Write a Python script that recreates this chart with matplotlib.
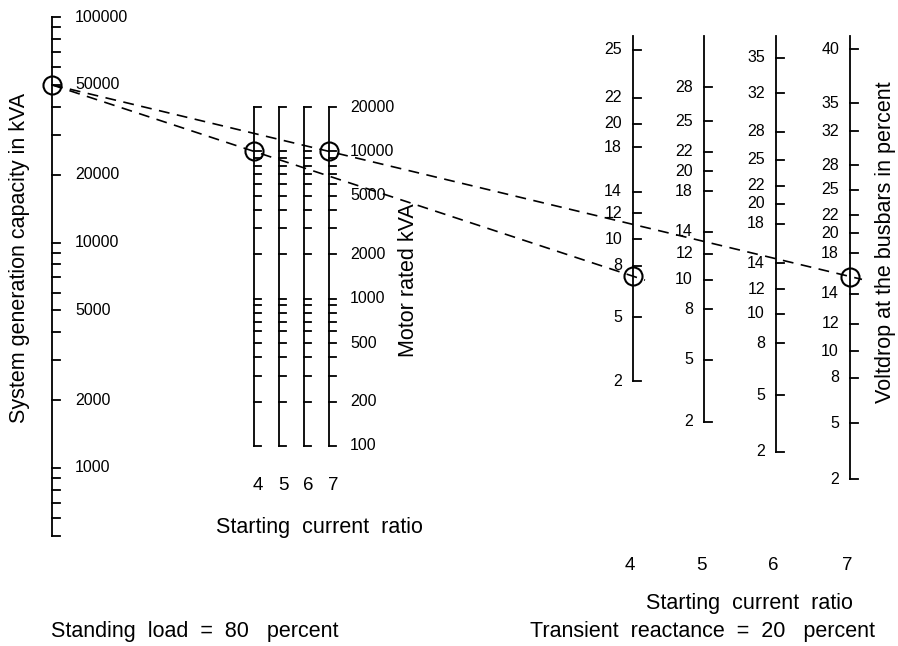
import numpy as np
import matplotlib
matplotlib.use("Agg")
import matplotlib.pyplot as plt

plt.rcParams['font.family'] = ['Liberation Sans', 'DejaVu Sans']

# ---------------- data ----------------
# System generation capacity scale (kVA, logarithmic)
gen_range = [500, 100000]
gen_labels = [1000, 2000, 5000, 10000, 20000, 50000, 100000]
gen_minor = (list(range(500, 1000, 100)) + list(range(1000, 10000, 1000))
             + list(range(10000, 100001, 10000)))

# Motor rated kVA scale (logarithmic), one line per starting current ratio
motor_range = [100, 20000]
motor_labels = [100, 200, 500, 1000, 2000, 5000, 10000, 20000]
motor_minor = (list(range(100, 1000, 100)) + list(range(1000, 10000, 1000))
               + [10000, 20000])
ratios = [4, 5, 6, 7]

# Voltdrop scales (percent) for each starting current ratio
vd_values = {
    4: [2, 5, 8, 10, 12, 14, 18, 20, 22, 25],
    5: [2, 5, 8, 10, 12, 14, 18, 20, 22, 25, 28],
    6: [2, 5, 8, 10, 12, 14, 18, 20, 22, 25, 28, 32, 35],
    7: [2, 5, 8, 10, 12, 14, 18, 20, 22, 25, 28, 32, 35, 40],
}
# graduation of the (non-uniform) voltdrop scales
vd_graduation = {
    4: [381, 317, 266, 239, 213, 192, 147, 124, 98, 50],
    5: [422, 360, 309, 280, 254, 232, 191, 171, 152, 121, 87],
    6: [452, 395, 343, 314, 289, 263, 224, 204, 186, 160, 132, 93, 58],
    7: [479, 423, 378, 351, 324, 294, 253, 233, 215, 190, 165, 131, 103, 49],
}

# worked example
gen_example = 50000
motor_example = 10000
example_ratios = [4, 7]
standing_load = 80
transient_reactance = 20

# ---------------- layout ----------------
W, H = 898, 646
X_GEN = 52
Y_G1000, DEC_G = 468.0, 225.5
X_MOT = {4: 254, 5: 279, 6: 304, 7: 329}
Y_M100, DEC_M = 446.0, 147.3
X_VD = {4: 633, 5: 704, 6: 776, 7: 850}
Y_VD_TOP = 36
TICK = 8
LW = 1.3
FS_TICK = 11.5
FS_LAB = 15.5
FS_RATIO = 13.5


def gen_y(v):
    return Y_G1000 - DEC_G * np.log10(np.asarray(v, float) / 1000.0)


def mot_y(v):
    return Y_M100 - DEC_M * np.log10(np.asarray(v, float) / 100.0)


fig = plt.figure(figsize=(W / 100, H / 100), dpi=100)
ax = fig.add_axes([0, 0, 1, 1])
ax.set_xlim(0, W)
ax.set_ylim(H, 0)
ax.axis('off')

# --- generation capacity scale
ax.plot([X_GEN, X_GEN], gen_y(gen_range), color='black', lw=LW)
for v in gen_minor:
    y = gen_y(v)
    ax.plot([X_GEN, X_GEN + TICK], [y, y], color='black', lw=LW)
for v in gen_labels:
    ax.text(X_GEN + 23, gen_y(v), str(v), ha='left', va='center', fontsize=FS_TICK)
ax.text(20, 258, 'System generation capacity in kVA', rotation=90,
        ha='center', va='center', fontsize=FS_LAB)

# --- motor scales
for r in ratios:
    x = X_MOT[r]
    ax.plot([x, x], mot_y(motor_range), color='black', lw=LW)
    for v in motor_minor:
        y = mot_y(v)
        ax.plot([x, x + TICK - 1], [y, y], color='black', lw=LW)
    ax.text(x + 4, 485, str(r), ha='center', va='center', fontsize=FS_RATIO)
for v in motor_labels:
    ax.text(X_MOT[7] + 21, mot_y(v), str(v), ha='left', va='center', fontsize=FS_TICK)
ax.text(409, 280, 'Motor rated kVA', rotation=90, ha='center', va='center',
        fontsize=FS_LAB)
ax.text(319, 528, 'Starting  current  ratio', ha='center', va='center',
        fontsize=FS_LAB)

# --- voltdrop scales
for r in ratios:
    x = X_VD[r]
    vals = vd_values[r]
    pos = vd_graduation[r]
    ax.plot([x, x], [pos[0], Y_VD_TOP], color='black', lw=LW)
    for v, y in zip(vals, pos):
        ax.plot([x, x + TICK], [y, y], color='black', lw=LW)
        ax.text(x - 11, y, str(v), ha='right', va='center', fontsize=FS_TICK)
    ax.text(x - 3, 565, str(r), ha='center', va='center', fontsize=FS_RATIO)
ax.text(749, 603, 'Starting  current  ratio', ha='center', va='center',
        fontsize=FS_LAB)
ax.text(886, 242, 'Voltdrop at the busbars in percent', rotation=90,
        ha='center', va='center', fontsize=FS_LAB)

# --- footer
ax.text(195, 632, 'Standing  load  =  %d   percent' % standing_load,
        ha='center', va='center', fontsize=FS_LAB)
ax.text(702, 632, 'Transient  reactance  =  %d   percent' % transient_reactance,
        ha='center', va='center', fontsize=FS_LAB)

# --- worked example: isopleths
y0 = float(gen_y(gen_example))
circ = dict(marker='o', markersize=13, markerfacecolor='none',
            markeredgecolor='black', markeredgewidth=1.5, linestyle='none')
ax.plot([X_GEN], [y0], **circ)
for r in example_ratios:
    x1, y1 = X_MOT[r], float(mot_y(motor_example))
    slope = (y1 - y0) / (x1 - X_GEN)
    xr = X_VD[r]
    yr = y0 + slope * (xr - X_GEN)
    xe = xr + 12
    ye = y0 + slope * (xe - X_GEN)
    ax.plot([X_GEN, xe], [y0, ye], color='black', lw=1.2, dashes=(6.5, 4.5))
    ax.plot([x1], [y1], **circ)
    ax.plot([xr], [yr], **circ)

fig.savefig('out.png', dpi=100, facecolor='white')
